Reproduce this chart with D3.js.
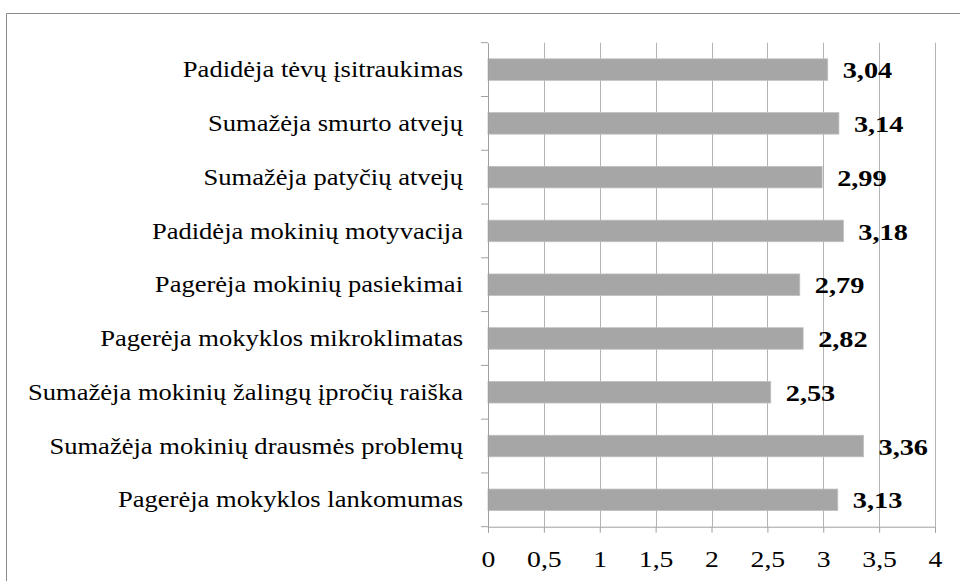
<!DOCTYPE html>
<html><head><meta charset="utf-8">
<script src="https://cdn.jsdelivr.net/npm/d3@7"></script>
<style>body{margin:0;background:#fff}svg{display:block}</style>
</head><body>
<script>
const categories = [
  "Padidėja tėvų įsitraukimas",
  "Sumažėja smurto atvejų",
  "Sumažėja patyčių atvejų",
  "Padidėja mokinių motyvacija",
  "Pagerėja mokinių pasiekimai",
  "Pagerėja mokyklos mikroklimatas",
  "Sumažėja mokinių žalingų įpročių raiška",
  "Sumažėja mokinių drausmės problemų",
  "Pagerėja mokyklos lankomumas"
];
const values = [3.04, 3.14, 2.99, 3.18, 2.79, 2.82, 2.53, 3.36, 3.13];
const tickValues = [0, 0.5, 1, 1.5, 2, 2.5, 3, 3.5, 4];

const W = 960, H = 581;
const SX = 1.155; // horizontal stretch of the text in the reference
const svg = d3.select("body").append("svg").attr("width", W).attr("height", H);
const font = "Liberation Serif, Times New Roman, serif";

// outer frame
svg.append("path").attr("d", `M6.5,${H} L6.5,13.5 L${W},13.5`)
  .attr("fill","none").attr("stroke","#8c8c8c").attr("stroke-width",1);

const plotTop = 42.7, plotBottom = 526.7;
const x = d3.scaleLinear().domain([0,4]).range([488,935]);
const y = d3.scaleBand().domain(categories).range([plotTop,plotBottom]).paddingInner(0.6).paddingOuter(0.3);
const yb = d3.scaleBand().domain(categories).range([plotTop,plotBottom]);

// gridlines
svg.append("g").selectAll("line").data(tickValues.slice(1)).join("line")
  .attr("x1", d=>Math.round(x(d))+0.5).attr("x2", d=>Math.round(x(d))+0.5)
  .attr("y1", plotTop).attr("y2", plotBottom)
  .attr("stroke","#b3b3b3").attr("stroke-width",1);

// bars
svg.append("g").selectAll("rect").data(values).join("rect")
  .attr("x", x(0)).attr("y", (d,i)=>y(categories[i]))
  .attr("width", d=>x(d)-x(0)).attr("height", y.bandwidth())
  .attr("fill","#a6a6a6").attr("stroke","#bfbfbf").attr("stroke-width",0.8);

// x axis
const xAxis = d3.axisBottom(x).tickValues(tickValues).tickSize(6)
  .tickFormat(d=>String(d).replace(".",","));
const gx = svg.append("g").attr("transform",`translate(0,${plotBottom})`).call(xAxis);
gx.select(".domain").attr("stroke","#a0a0a0");
gx.selectAll(".tick line").attr("stroke","#a0a0a0");
gx.selectAll("text").style("font-family",font).style("font-size","24px").attr("fill","#000")
  .attr("y",40.3).attr("dy",0).attr("transform",`scale(${SX},1)`);

// y axis
const yAxis = d3.axisLeft(yb).tickSize(0).tickPadding(0);
const gy = svg.append("g").attr("transform","translate(488,0)").call(yAxis);
gy.select(".domain").attr("stroke","#a0a0a0");
gy.selectAll("text").style("font-family",font).style("font-size","23px").attr("fill","#000")
  .attr("x",-25/SX).attr("dy","0.33em").attr("transform",`scale(${SX},1)`);
// band boundary ticks
svg.append("g").selectAll("line").data(d3.range(categories.length+1)).join("line")
  .attr("x1",481).attr("x2",488)
  .attr("y1",i=>plotTop+i*yb.step()).attr("y2",i=>plotTop+i*yb.step())
  .attr("stroke","#a0a0a0");

// value labels
svg.append("g").selectAll("g").data(values).join("g")
  .attr("transform",(d,i)=>`translate(${x(d)+15},${y(categories[i])+y.bandwidth()/2}) scale(1.18,1)`)
  .append("text")
  .attr("dy","0.36em").style("font-family",font).style("font-weight","bold")
  .style("font-size","24px").attr("fill","#000")
  .text(d=>d.toFixed(2).replace(".",","));
</script>
</body></html>
